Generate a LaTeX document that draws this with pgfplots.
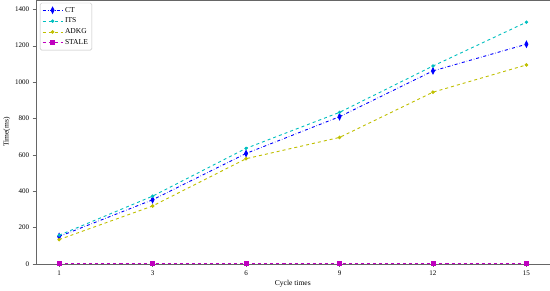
\documentclass[border=0pt]{standalone}
\usepackage{pgfplots}
\pgfplotsset{compat=1.18}
\usepackage{fontspec}
\setmainfont{Liberation Serif}

\definecolor{mplc}{rgb}{0,0.75,0.75}
\definecolor{mply}{rgb}{0.75,0.75,0}
\definecolor{mplm}{rgb}{0.75,0,0.75}

\begin{document}
\begin{tikzpicture}
\begin{axis}[
  scale only axis,
  width=509bp, height=261bp,
  xmin=-0.25, xmax=5.25, ymin=0, ymax=1450,
  xtick={0,1,2,3,4,5},
  xticklabels={1,3,6,9,12,15},
  ytick={0,200,400,600,800,1000,1200,1400},
  xlabel={Cycle times}, ylabel={Time(ms)},
  tick align=outside, tick pos=left,
  major tick length=3bp,
  axis line style={black!60},
  tick style={black!60},
  clip=false,
  /pgf/number format/assume math mode=true,
  /pgf/number format/1000 sep={},
  tick label style={font=\fontsize{7}{8}\selectfont},
  label style={font=\fontsize{7.5}{9}\selectfont},
  xlabel style={yshift=2bp},
  ylabel style={yshift=-2bp},
  legend cell align=left,
  legend style={font=\fontsize{7.5}{9}\selectfont, draw=black!25, rounded corners=1.5bp,
    inner sep=2bp, row sep=0.3pt, at={(0.008,0.99)}, anchor=north west},
  legend image code/.code={
    \draw[mark repeat=2,mark phase=2] plot coordinates {(0cm,0cm)(0.35cm,0cm)(0.7cm,0cm)};},
]
\addplot[blue, dash dot, line width=0.9pt, mark=diamond*, mark size=3pt,
  mark options={solid, fill=blue, xscale=0.65}] coordinates {
(0,150)(1,352)(2,607)(3,809)(4,1061)(5,1208)
};
\addplot[mplc, dashed, line width=0.9pt, mark=*, mark size=1.2pt,
  mark options={solid, fill=mplc}] coordinates {
(0,157)(1,372)(2,635)(3,833)(4,1088)(5,1329)
};
\addplot[mply, dashed, line width=0.9pt, mark=*, mark size=1.3pt,
  mark options={solid, fill=mply}] coordinates {
(0,133)(1,318)(2,578)(3,695)(4,944)(5,1094)
};
\addplot[mplm, dashed, line width=0.9pt, mark=square*, mark size=2pt,
  mark options={solid, fill=mplm}] coordinates {
(0,2)(1,2)(2,2)(3,2)(4,2)(5,2)
};
\legend{CT, ITS, ADKG, STALE}
\end{axis}
\end{tikzpicture}
\end{document}
